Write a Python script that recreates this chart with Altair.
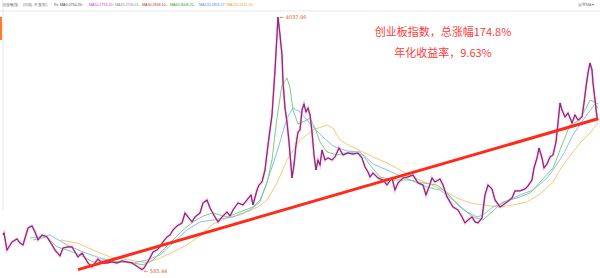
import altair as alt
import pandas as pd

# ---- data (x = bar position, v = index level) ----
price_x = [3, 4, 7, 12, 17, 20, 23, 28, 32, 35, 38, 42, 47, 52, 55, 60, 63, 68, 72, 75,
           78, 82, 85, 88, 92, 95, 98, 102, 107, 112, 117, 122, 127, 132, 135, 138, 142, 144,
           147, 150, 153, 157, 160, 163, 167, 170, 173, 177, 182, 185, 188, 192, 195, 200,
           203, 207, 210, 215, 218, 222, 227, 230, 233, 238, 243, 247, 251, 253, 257, 259,
           262, 265, 268, 272, 275, 277, 278, 280, 282, 283, 285, 287, 289, 292, 294, 296,
           298, 300, 302, 304, 306, 308, 310, 312, 314, 316, 318, 320, 322, 325, 328, 332,
           335, 339, 343, 348, 353, 358, 362, 365, 368, 370, 373, 378, 383, 387, 392, 395,
           398, 403, 408, 413, 418, 423, 426, 429, 432, 435, 440, 443, 447, 450, 453, 458,
           462, 465, 468, 472, 475, 478, 482, 485, 488, 492, 495, 500, 503, 507, 512, 515,
           520, 525, 528, 532, 534, 537, 539, 542, 544, 547, 550, 553, 556, 558, 560, 562,
           565, 568, 572, 575, 578, 582, 584, 586, 588, 590, 592, 593, 595, 597, 598]
price_v = [1063, 1090, 858, 968, 1009, 954, 927, 1159, 1186, 1104, 995, 1063, 1036, 927, 858,
           777, 886, 900, 900, 831, 763, 818, 749, 681, 627, 681, 736, 681, 681, 695, 681,
           709, 695, 681, 654, 627, 590, 613, 681, 749, 831, 858, 900, 968, 1036, 1063, 1131,
           1186, 1227, 1363, 1309, 1241, 1309, 1363, 1500, 1541, 1432, 1309, 1241, 1309, 1377,
           1322, 1404, 1500, 1473, 1541, 1609, 1473, 1677, 1745,
           1786, 1950, 2291, 2701, 3315, 3792, 4038, 3792, 3519, 3151, 2796, 2605, 2332, 1841,
           2018, 2291, 2469, 2496, 2769, 2851, 2742, 2796, 2701, 2469, 2155, 1950, 2087, 2018,
           2223, 2087, 2114, 2087, 2128, 2250, 2155, 2182, 2168, 2182, 2114, 1991, 1923, 1855,
           1909, 1841, 1814, 1745, 1841, 1677, 1773, 1841, 1855, 1882, 1773, 1745, 1609, 1718,
           1841, 1786, 1827, 1745, 1582, 1514, 1445, 1404, 1309, 1227, 1268, 1309, 1241, 1227,
           1295, 1609, 1745, 1691, 1541, 1445, 1473, 1514, 1568, 1664, 1664, 1691, 1732, 1814,
           1977, 2114, 2250, 2114, 1977, 2032, 2128, 2155, 2332, 2592, 2864, 2769, 2673, 2728,
           2592, 2701, 2632, 2673, 2864, 3083, 3274, 3410, 3315, 3137, 2905, 2673, 2632]

ma60_x = [33, 47, 57, 67, 80, 93, 103, 120, 133, 143, 153, 163, 173, 183, 193, 203, 213, 227,
          240, 253, 260, 267, 272, 277, 282, 287, 290, 293, 298, 305, 310, 315, 320, 327, 337,
          350, 363, 370, 380, 393, 410, 423, 437, 447, 460, 473, 483, 493, 503, 517, 530, 542,
          553, 560, 570, 580, 590, 598]
ma60_v = [995, 1036, 900, 858, 790, 695, 722, 695, 681, 654, 722, 858, 995, 1131, 1241, 1322,
          1363, 1309, 1377, 1445, 1541, 1773, 2087, 2660, 3110, 3206, 3069, 2769, 2578, 2619,
          2660, 2523, 2332, 2196, 2155, 2196, 2155, 2018, 1855, 1814, 1814, 1773, 1745, 1636,
          1445, 1309, 1268, 1391, 1514, 1568, 1636, 1814, 1977, 2223, 2564, 2632, 2905, 2851]

ma120_x = [30, 50, 67, 83, 100, 117, 133, 147, 160, 173, 187, 200, 213, 233, 250, 260, 267,
           277, 287, 293, 300, 313, 323, 333, 347, 360, 373, 387, 400, 410, 427, 440, 453, 467,
           477, 483, 493, 507, 520, 533, 547, 553, 563, 573, 583, 595, 598]
ma120_v = [1022, 1063, 927, 831, 749, 695, 681, 722, 790, 954, 1131, 1241, 1268, 1309, 1404,
           1514, 1786, 2196, 2660, 2796, 2742, 2537, 2400, 2278, 2209, 2196, 2032, 1950, 1868,
           1814, 1718, 1677, 1541, 1377, 1309, 1336, 1445, 1527, 1609, 1677, 1841, 1950, 2155,
           2428, 2632, 2851, 2796]

ma250_x = [60, 77, 93, 110, 130, 147, 160, 173, 187, 200, 213, 227, 240, 258, 267, 277, 287,
           300, 313, 327, 333, 340, 350, 363, 373, 387, 400, 410, 427, 443, 457, 470, 483, 500,
           513, 527, 540, 553, 563, 580, 590, 598]
ma250_v = [995, 954, 858, 763, 722, 681, 749, 831, 927, 1049, 1213, 1295, 1336, 1445, 1541,
           1773, 2087, 2360, 2496, 2564, 2523, 2360, 2278, 2196, 2128, 2046, 1950, 1868, 1773,
           1677, 1568, 1500, 1473, 1445, 1473, 1514, 1623, 1786, 2018, 2319, 2455, 2592]

trend_x = [78, 598]
trend_v = [590, 2650]

peak_label = "4037.96"
low_label = "585.44"
note_lines = ["创业板指数，总涨幅174.8%", "年化收益率，9.63%"]

header_texts = ["创业板指", "(日线, 不复权)", "Rs", "MA5:2750.26↑", "MA10:2793.20↑",
                "MA20:2730.01↓", "MA30:2858.10↓", "MA60:3008.25↓", "MA120:2859.27↑",
                "MA250:2621.05↑", "设置MA ▾"]
header_colors = ["#555555", "#777777", "#555555", "#444444", "#e02ee0", "#8c7fa8", "#b03535",
                 "#2ea02e", "#3a8ee6", "#f0a020", "#777777"]
header_pos = [2, 23, 54, 60, 89, 115, 142, 170, 199, 227, 578]

W, H, TOP = 600, 266, 12
xs = alt.Scale(domain=[0, 600])
ys = alt.Scale(domain=[476, 4106])
grid_vals = [round(4011 - 204.7 * k) for k in range(18)]


def line_df(x, v):
    return pd.DataFrame({"x": x, "v": v})


price = line_df(price_x, price_v)


def line_layer(df, color, width, opacity=1.0, axis=None):
    return alt.Chart(df).mark_line(color=color, strokeWidth=width, opacity=opacity,
                                   interpolate="linear").encode(
        x=alt.X("x:Q", scale=xs, axis=None),
        y=alt.Y("v:Q", scale=ys, axis=axis),
    )


grid_axis = alt.Axis(values=grid_vals, labels=False, ticks=False, domain=False,
                     grid=True, gridColor="#efefef", gridWidth=1, title=None)

layers = [
    line_layer(line_df(ma250_x, ma250_v), "#f8c878", 1.0, axis=grid_axis),
    line_layer(line_df(ma120_x, ma120_v), "#78b8ec", 0.9),
    line_layer(line_df(ma60_x, ma60_v), "#74c474", 0.9),
    line_layer(price, "#f2bcd2", 3.2, opacity=0.45),
    line_layer(price, "#c93cc0", 1.3),
    line_layer(price, "#4a2a34", 0.6),
    line_layer(line_df(trend_x, trend_v), "#ff2a1a", 3.0),
]

# extreme labels
pk = price.loc[[price["v"].idxmax()]].assign(t="← " + peak_label)
lo = price.loc[[price["v"].idxmin()]].assign(t="← " + low_label)
for d, dy in ((pk, 0), (lo, 1)):
    layers.append(alt.Chart(d).mark_text(align="left", baseline="middle", dx=2, dy=dy,
                                         fontSize=5, color="#e0602a",
                                         font="DejaVu Sans").encode(
        x=alt.X("x:Q", scale=xs, axis=None), y=alt.Y("v:Q", scale=ys, axis=None), text="t:N"))

# red notes (two lines)
for line, ypx in zip(note_lines, [21, 42]):
    layers.append(alt.Chart(pd.DataFrame({"t": [line]})).mark_text(
        align="center", baseline="middle", fontSize=11, color="#ff3b3b",
        font="Noto Sans CJK SC").encode(x=alt.value(443), y=alt.value(ypx), text="t:N"))

# header row above the plot
hdr = pd.DataFrame({"t": header_texts, "c": header_colors, "px": header_pos})
layers.append(alt.Chart(hdr).mark_text(align="left", baseline="middle", fontSize=3.6,
                                       font="Liberation Sans").encode(
    x=alt.X("px:Q", scale=None), y=alt.value(-7),
    text="t:N", color=alt.Color("c:N", scale=None)))

# left window chrome
one = pd.DataFrame({"a": [0]})
layers.append(alt.Chart(one).mark_rule(color="#e6e6e6", strokeWidth=1).encode(
    x=alt.value(3), y=alt.value(-12), y2=alt.value(198)))
layers.append(alt.Chart(one).mark_rule(color="#ff7a2a", strokeWidth=2).encode(
    x=alt.value(1), y=alt.value(5), y2=alt.value(28)))
layers.append(alt.Chart(one).mark_rule(color="#e8e8e8", strokeWidth=1).encode(
    x=alt.value(0), x2=alt.value(600), y=alt.value(-1)))

chart = alt.layer(*layers).properties(
    width=W, height=H,
    padding={"top": TOP, "left": 0, "right": 0, "bottom": 0},
    autosize=alt.AutoSizeParams(type="none"),
    background="white",
).configure_view(stroke=None)

chart.save("out.html", embed_options={"renderer": "svg", "actions": False})
